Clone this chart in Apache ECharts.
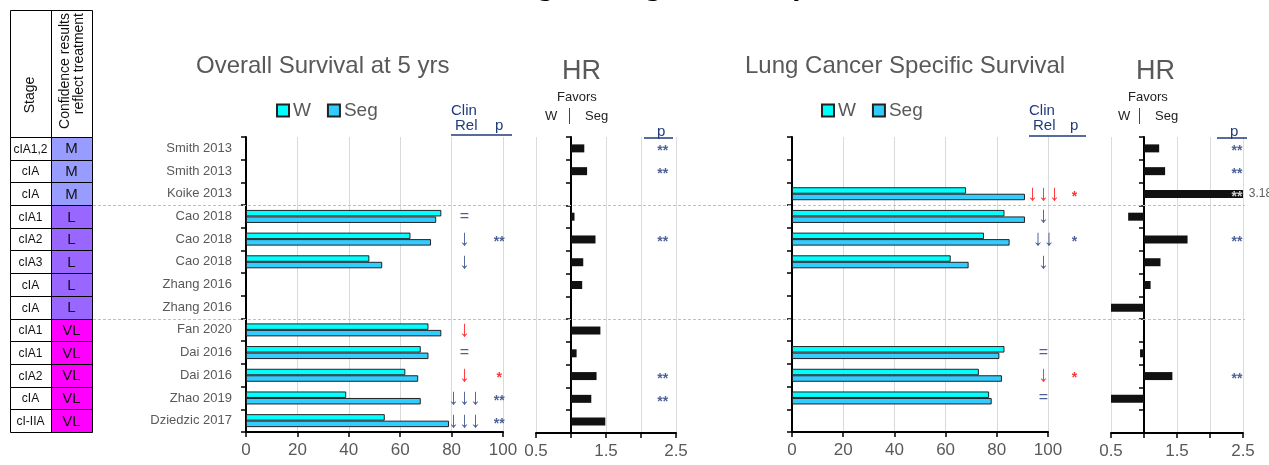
<!DOCTYPE html>
<html><head><meta charset="utf-8">
<script src="https://cdn.jsdelivr.net/npm/echarts@6/dist/echarts.min.js"></script>
<style>html,body{margin:0;padding:0;background:#fff}#c{width:1269px;height:465px}</style>
</head><body><div id="c"></div>
<script>
// ---------------- data ----------------
const studies = ['Smith 2013','Smith 2013','Koike 2013','Cao 2018','Cao 2018','Cao 2018','Zhang 2016','Zhang 2016','Fan 2020','Dai 2016','Dai 2016','Zhao 2019','Dziedzic 2017'];
const stages = ['cIA1,2','cIA','cIA','cIA1','cIA2','cIA3','cIA','cIA','cIA1','cIA1','cIA2','cIA','cI-IIA'];
const confidence = ['M','M','M','L','L','L','L','L','VL','VL','VL','VL','VL'];
const tableCols = ['Stage','Confidence'];

const osW   = [null,null,null,76,64,48,null,null,71,68,62,39,54];
const osSeg = [null,null,null,74,72,53,null,null,76,71,67,68,79];
const osHR  = [1.19,1.23,null,1.05,1.35,1.175,1.16,null,1.42,1.08,1.365,1.29,1.49];

const lcW   = [null,null,68,83,75,62,null,null,null,83,73,77,null];
const lcSeg = [null,null,91,91,85,69,null,null,null,81,82,78,null];
const lcHR  = [1.23,1.32,3.18,0.76,1.66,1.25,1.1,0.5,null,0.94,1.43,0.5,null];

const osClinRel = ['','','','=','↓','↓','','','↓','=','↓','↓↓↓','↓↓↓'];
const osClinRed = [0,0,0,0,0,0,0,0,1,0,1,0,0];
const osP       = ['','','','','**','','','','','','*','**','**'];
const osPRed    = [0,0,0,0,0,0,0,0,0,0,1,0,0];
const osHRp     = ['**','**','','','**','','','','','','**','**',''];

const lcClinRel = ['','','↓↓↓','↓','↓↓','↓','','','','=','↓','=',''];
const lcClinRed = [0,0,1,0,0,0,0,0,0,0,1,0,0];
const lcP       = ['','','*','','*','','','','','','*','',''];
const lcPRed    = [0,0,1,0,0,0,0,0,0,0,1,0,0];
const lcHRp     = ['**','**','**','','**','','','','','','**','',''];
const lcHRpWhite= [0,0,1,0,0,0,0,0,0,0,0,0,0];

const pctTicks = [0,20,40,60,80,100];
const hrTicks  = [0.5,1.5,2.5];
const hrRange  = [0.5,2.5];

// ---------------- style ----------------
const FONT = '"Liberation Sans", Arial, sans-serif';
const GREY = '#595959';
const NAVY = '#1f3a7d';
const RED = '#ff0000';
const confColors = {M:'#999cff', L:'#9966ff', VL:'#ff00ff'};
const cW = '#00ffff', cSeg = '#33ccff';

const chart = echarts.init(document.getElementById('c'), null, {renderer:'canvas'});

const rowTop = 137, rowH = 295;
const grids = [
  {left:10,  top:rowTop, width:82,  height:rowH},
  {left:246, top:rowTop, width:257, height:rowH},
  {left:536, top:rowTop, width:140, height:rowH+1},
  {left:792, top:rowTop, width:256, height:rowH},
  {left:1111,top:rowTop, width:132, height:rowH+1}
];

function catY(gi, showLabels){
  return {type:'category', gridIndex:gi, data:studies, inverse:true,
    axisLine:{show:true, lineStyle:{color:'#000', width:2}, onZero:true},
    axisTick:{show:true, length:5, lineStyle:{color:'#000', width:1.5}},
    axisLabel:{show:showLabels, color:GREY, fontSize:13, fontFamily:FONT, margin:14},
    splitLine:{show:false}};
}
function pctX(gi){
  return {type:'value', gridIndex:gi, min:pctTicks[0], max:pctTicks[pctTicks.length-1], interval:pctTicks[1]-pctTicks[0],
    axisLine:{show:true, lineStyle:{color:'#000', width:2}},
    axisTick:{show:true, length:5, lineStyle:{color:'#000', width:1.5}},
    axisLabel:{color:GREY, fontSize:17, fontFamily:FONT, margin:10},
    splitLine:{show:true, lineStyle:{color:'#d9d9d9', width:1}}};
}
function hrX(gi){
  return {type:'value', gridIndex:gi, min:hrRange[0]-1, max:hrRange[1]-1, interval:0.5,
    axisLine:{show:true, onZero:false, lineStyle:{color:'#000', width:2}},
    axisTick:{show:true, length:5, lineStyle:{color:'#000', width:1.5}},
    axisLabel:{color:GREY, fontSize:17, fontFamily:FONT, margin:10,
      formatter:v=>{const h=+(v+1).toFixed(2); return hrTicks.indexOf(h)>=0 ? h.toFixed(1) : '';}},
    splitLine:{show:true, lineStyle:{color:'#dcdcdc', width:1}}};
}

function pairBars(gi, w, s){
  const common = {type:'bar', xAxisIndex:gi, yAxisIndex:gi, barWidth:6.5, barGap:'0%'};
  return [
    Object.assign({}, common, {name:'W', data:w, itemStyle:{color:cW, borderColor:'#222', borderWidth:1}}),
    Object.assign({}, common, {name:'Seg', data:s, itemStyle:{color:cSeg, borderColor:'#222', borderWidth:1}})
  ];
}
function hrBars(gi, vals){
  return {type:'bar', xAxisIndex:gi, yAxisIndex:gi, barWidth:8, clip:true,
    itemStyle:{color:'#111'}, data:vals.map(v=>v==null?null:v-1)};
}
function annot(gi, texts, xval, redFlags, whiteFlags){
  const data=[];
  texts.forEach((t,i)=>{
    if(!t) return;
    const isStar = t.indexOf('*')>=0;
    const isEq = t==='=';
    let color = NAVY;
    if(redFlags && redFlags[i]) color = RED;
    if(whiteFlags && whiteFlags[i]) color = '#fff';
    data.push({value:[xval, i], label:{show:true, formatter:t, color:color,
      fontSize: isStar?14:(isEq?16:22), fontWeight: isStar?'bold':'normal',
      offset:[0, isStar?3:0]}});
  });
  return {type:'scatter', xAxisIndex:gi, yAxisIndex:gi, symbol:'circle', symbolSize:1, clip:false,
    itemStyle:{color:'rgba(0,0,0,0)'}, silent:true, z:10,
    label:{show:true, position:'inside', fontFamily:FONT}, data:data};
}

const series = [
  {type:'custom', xAxisIndex:0, yAxisIndex:0, clip:false,
   data: stages.map((s,i)=>[0,i]).concat(confidence.map((c,i)=>[1,i])),
   renderItem:(params, api)=>{
     const col=api.value(0), row=api.value(1);
     const c=api.coord([col,row]), s=api.size([1,1]);
     const isConf = col===1;
     return {type:'group', children:[
       {type:'rect', shape:{x:Math.round(c[0]-s[0]/2)+0.5, y:Math.round(c[1]-s[1]/2)+0.5, width:Math.round(s[0]), height:Math.round(s[1])},
        style:{fill:isConf?confColors[confidence[row]]:'#fff', stroke:'#000', lineWidth:1}},
       {type:'text', x:c[0], y:c[1]+1, style:{text:isConf?confidence[row]:stages[row], align:'center', verticalAlign:'middle',
        font:(isConf?'15px ':'12px ')+FONT, fill:'#111'}}
     ]};
   }},
  ...pairBars(1, osW, osSeg),
  hrBars(2, osHR),
  ...pairBars(3, lcW, lcSeg),
  hrBars(4, lcHR),
  annot(1, osClinRel, 85, osClinRed),
  annot(1, osP, 98.5, osPRed),
  annot(2, osHRp, 2.31-1),
  annot(3, lcClinRel, 98.2, lcClinRed),
  annot(3, lcP, 110.3, lcPRed),
  annot(4, lcHRp, 2.41-1, null, lcHRpWhite),
  {type:'scatter', xAxisIndex:4, yAxisIndex:4, symbolSize:1, clip:false, itemStyle:{color:'rgba(0,0,0,0)'}, silent:true,
   label:{show:true, position:'right', distance:0, fontFamily:FONT, fontSize:12, color:'#333', formatter:p=>lcHR[p.value[1]].toFixed(2)},
   data: lcHR.map((v,i)=>v!=null && v>hrRange[1] ? [hrRange[1]-1+0.08, i] : null).filter(d=>d)}
];

const titleStyle = {color:GREY, fontSize:24, fontWeight:'normal', fontFamily:FONT};
const option = {
  animation:false,
  textStyle:{fontFamily:FONT},
  title:[
    {text:'Overall Survival at 5 yrs', left:196, top:54, textStyle:titleStyle, padding:0},
    {text:'HR', left:562, top:58, textStyle:Object.assign({}, titleStyle,{fontSize:27}), padding:0},
    {text:'Lung Cancer Specific Survival', left:745, top:54, textStyle:titleStyle, padding:0},
    {text:'HR', left:1136, top:58, textStyle:Object.assign({}, titleStyle,{fontSize:27}), padding:0}
  ],
  legend:[
    {left:276, top:101, data:['W','Seg'], icon:'rect', itemWidth:12, itemHeight:12, itemGap:16, selectedMode:false, padding:0,
     textStyle:{color:GREY, fontSize:19, fontFamily:FONT, padding:[0,0,0,-1]}},
    {left:821, top:101, data:['W','Seg'], icon:'rect', itemWidth:12, itemHeight:12, itemGap:16, selectedMode:false, padding:0,
     textStyle:{color:GREY, fontSize:19, fontFamily:FONT, padding:[0,0,0,-1]}}
  ],
  grid:grids,
  xAxis:[
    {type:'category', gridIndex:0, data:tableCols, show:false},
    pctX(1), hrX(2), pctX(3), hrX(4)
  ],
  yAxis:[
    {type:'category', gridIndex:0, data:stages, inverse:true, show:false},
    catY(1,true), catY(2,false), catY(3,false), catY(4,false)
  ],
  series:series
};
chart.setOption(option);

// ---------- decorations ----------
const g = [];
function txt(x,y,t,size,color,align,extra){
  g.push(Object.assign({type:'text', x:x, y:y, silent:true, z:20,
    style:{text:t, font:size+'px '+FONT, fill:color, align:align||'left', verticalAlign:'top'}}, extra||{}));
}
function line(x1,y1,x2,y2,color,w,dash){
  g.push({type:'line', silent:true, z:1, shape:{x1:x1,y1:y1,x2:x2,y2:y2},
    style:{stroke:color, lineWidth:w, lineDash:dash||null}});
}
// cut-off main title (only its lower edge remains inside the picture)
g.push({type:'text', x:646, y:-13, silent:true, style:{text:'Wedge vs. Segmentectomy', font:'30px "Liberation Serif", "Times New Roman", serif', fill:'#000', align:'center', verticalAlign:'middle'}});
// table header
g.push({type:'rect', shape:{x:10.5, y:10.5, width:82, height:127}, style:{fill:'#fff', stroke:'#000', lineWidth:1}});
line(51.5,10.5,51.5,137.5,'#000',1);
g.push({type:'text', x:30, y:95, rotation:Math.PI/2, silent:true, style:{text:'Stage', font:'14px '+FONT, fill:'#111', align:'center', verticalAlign:'middle'}});
g.push({type:'text', x:72, y:13, rotation:Math.PI/2, silent:true, style:{text:'Confidence results\nreflect treatment', font:'14px '+FONT, fill:'#111', align:'right', verticalAlign:'middle', lineHeight:14}});
// Clin Rel / p headers
txt(451,103,'Clin',15,NAVY); txt(455,118,'Rel',15,NAVY); txt(495,118,'p',15,NAVY);
line(451,135,512,135,NAVY,1.5);
txt(1029,103,'Clin',15,NAVY); txt(1033,118,'Rel',15,NAVY); txt(1070,118,'p',15,NAVY);
line(1029,136,1086,136,NAVY,1.5);
txt(657,124,'p',15,NAVY); line(644,138,673,138,NAVY,1.5);
txt(1230,124,'p',15,NAVY); line(1217,138,1247,138,NAVY,1.5);
// Favors
txt(557,91,'Favors',13,'#222'); txt(545,110,'W',13,'#222'); txt(585,110,'Seg',13,'#222'); line(569.5,108,569.5,124,'#444',1);
txt(1128,91,'Favors',13,'#222'); txt(1118,110,'W',13,'#222'); txt(1155,110,'Seg',13,'#222'); line(1139.5,108,1139.5,124,'#444',1);
// group separators
[3,8].forEach(k=>{
  const a = chart.convertToPixel({xAxisIndex:1, yAxisIndex:1},[0,k-1])[1];
  const b = chart.convertToPixel({xAxisIndex:1, yAxisIndex:1},[0,k])[1];
  const y = Math.round((a+b)/2)+0.5;
  line(93,y,1245,y,'#c0c0c0',1,[3,2]);
});
chart.setOption({graphic:{elements:g}});
</script>
</body></html>
